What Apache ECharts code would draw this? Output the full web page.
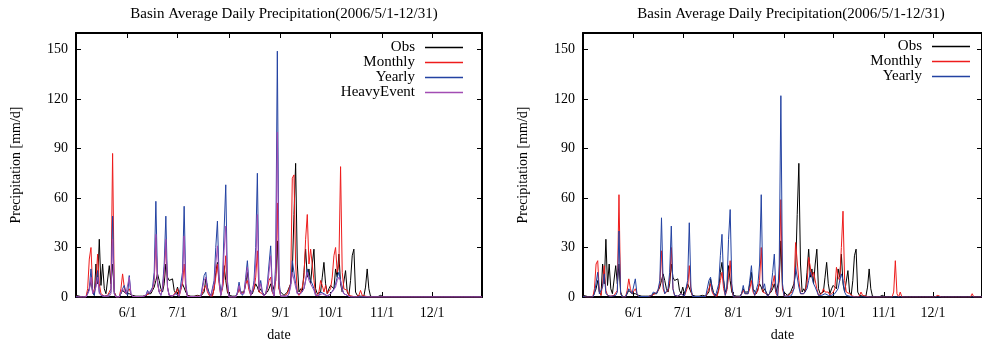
<!DOCTYPE html>
<html>
<head>
<meta charset="utf-8">
<script src="https://cdn.jsdelivr.net/npm/echarts@6/dist/echarts.min.js"></script>
<style>
  html, body { margin: 0; padding: 0; background: #fff; }
  #chart { width: 982px; height: 347px; }
</style>
</head>
<body>
<div id="chart"></div>
<script>
// basin average daily precipitation [mm/d], 2006/5/1 - 12/31, one line per month
const firstMonth = 5;
const monthLengths = [31, 30, 31, 31, 30, 31, 30, 31];
const tickLabels = ['6/1', '7/1', '8/1', '9/1', '10/1', '11/1', '12/1'];
const titleText = 'Basin Average Daily Precipitation(2006/5/1-12/31)';

const obs = [
  1, 1, 0.5, 0, 0, 0, 0, 0, 5, 10, 3, 1, 20, 8, 35, 7, 20, 5, 2, 1, 19, 8, 20, 3, 0.5, 0, 0, 1, 4, 5, 2,
  1, 2, 1, 1, 0.5, 0.5, 0.5, 0.5, 0.5, 0.5, 0.5, 0.5, 2, 3, 2, 4, 6, 10, 14, 10, 5, 3, 8, 20, 12, 10, 11, 11, 4, 2,
  6, 2, 3, 8, 9, 3, 1, 0.5, 0.5, 1, 0.5, 0.5, 1, 0.5, 0.5, 1, 3, 11, 6, 2, 1, 1, 5, 15, 21, 10, 3, 5, 19, 10, 3,
  1, 0.5, 0.5, 0.5, 0.5, 2, 5, 3, 4, 3, 8, 15, 5, 4, 2, 3, 8, 6, 3, 5, 3, 1, 2, 3, 5, 8, 3, 2, 10, 34, 5,
  3, 4, 1, 2, 3, 4, 8, 15, 50, 81, 20, 3, 5, 3, 15, 29, 12, 17, 8, 20, 29, 5, 2, 1, 3, 12, 21, 8, 2, 5,
  7, 6, 5, 17, 12, 26, 8, 3, 4, 16, 3, 1, 10, 25, 29, 3, 1, 0.5, 0.5, 0.5, 0.5, 6, 17, 5, 0.5, 0, 0, 0, 0, 0, 1,
  0, 0, 0, 0, 1, 0, 0, 0, 0, 0, 0, 0, 0, 0, 0, 0, 0, 0, 0, 0, 0, 0, 0, 0, 0, 0, 0, 0, 0, 0,
  0.8, 0, 0, 0, 0, 0, 0, 0, 0, 0, 0, 0, 0, 0, 0, 0, 0, 0, 0, 0, 0, 0, 0, 0, 0, 0, 0, 0, 0, 0, 0
];

// left panel
const monthlyA = [
  0.5, 0.3, 0, 0, 0, 0, 0, 5, 23, 30, 5, 2, 10, 26, 8, 2, 1, 0.5, 0.5, 1, 3, 5, 87, 3, 0, 0, 0, 5, 14, 6, 2,
  1, 5, 2, 0.3, 0.3, 0.3, 0.3, 0.3, 0.3, 0.3, 0.3, 1, 2, 2, 3, 5, 10, 36, 8, 3, 2, 5, 15, 33, 6, 1, 0.5, 0.5, 0, 3,
  5, 0.5, 1, 8, 20, 5, 0.5, 0.3, 0.3, 0.5, 0.3, 0.3, 0.5, 0.3, 0.3, 0.5, 5, 7, 3, 1, 0.5, 0.5, 5, 12, 20, 8, 1, 5, 12, 25, 5,
  0, 0, 0, 0, 0, 2, 5, 2, 1, 3, 8, 10, 4, 1, 2, 5, 12, 28, 3, 4, 2, 0.5, 2, 5, 10, 12, 3, 0.5, 10, 57, 5,
  0.5, 0.5, 0.5, 1, 2, 5, 8, 72, 74, 20, 3, 1, 3, 6, 12, 35, 50, 20, 29, 28, 10, 2, 0.5, 3, 10, 7, 3, 7, 2, 3,
  5, 12, 25, 30, 15, 20, 79, 15, 5, 5, 4, 1, 0.5, 0.5, 0, 0, 0.5, 1, 4, 1, 2, 0.5, 0, 0, 0, 0, 0, 0, 0, 0, 0,
  0, 0, 0, 0, 0, 0, 0, 0, 0, 0, 0, 0, 0, 0, 0, 0, 0, 0, 0, 0, 0, 0, 0, 0, 0, 0, 0, 0, 0, 0,
  0, 0, 0, 0, 0, 0, 0, 0, 0, 0, 0, 0, 0, 0, 0, 0, 0, 0, 0, 0, 0, 0, 0, 0, 0, 0, 0, 0, 0, 0, 0
];
const yearlyA = [
  0.3, 0.3, 0, 0, 0, 0, 0, 2, 5, 17, 3, 1, 8, 16, 3, 1, 0.5, 0.5, 0.5, 0.5, 1, 3, 49, 2, 0, 0, 0, 1, 5, 7, 3,
  1, 13, 2, 0.3, 0.3, 0.3, 0.3, 0.3, 0.3, 0.3, 0.3, 1, 4, 2, 3, 6, 15, 58, 10, 3, 1, 6, 20, 49, 6, 1, 0.5, 0.5, 0.5, 2,
  3, 0.5, 1, 15, 55, 8, 0.3, 0.3, 0.3, 0.3, 0.3, 0.3, 0.3, 0.3, 0.3, 0.3, 13, 15, 5, 4, 0.5, 0.5, 10, 30, 46, 12, 1, 8, 40, 68, 10,
  0, 0, 0, 0, 0, 3, 9, 3, 1, 3, 12, 22, 8, 1, 3, 10, 30, 75, 5, 10, 3, 0.5, 2, 8, 20, 31, 5, 0.5, 20, 149, 10,
  0.5, 0.5, 0.5, 0.5, 0.5, 2, 8, 22, 22, 8, 2, 1, 2, 3, 5, 10, 17, 12, 10, 8, 5, 1, 0.5, 1, 3, 3, 2, 1, 0.5, 1,
  2, 3, 5, 8, 12, 15, 15, 5, 2, 2, 1, 0, 0, 0, 0, 0, 0, 0, 0, 0, 0, 0, 0, 0, 0, 0, 0, 0, 0, 0, 0,
  0, 0, 0, 0, 0, 0, 0, 0, 0, 0, 0, 0, 0, 0, 0, 0, 0, 0, 0, 0, 0, 0, 0, 0, 0, 0, 0, 0, 0, 0,
  0, 0, 0, 0, 0, 0, 0, 0, 0, 0, 0, 0, 0, 0, 0, 0, 0, 0, 0, 0, 0, 0, 0, 0, 0, 0, 0, 0, 0, 0, 0
];
const heavyA = [
  0, 0, 0, 0, 0, 0, 0, 0, 4, 12, 2, 1, 6, 12, 2, 1, 0.5, 0.5, 0.5, 0.5, 0.5, 2, 35, 2, 0, 0, 0, 1, 5, 6, 2,
  1, 12, 2, 0.3, 0.3, 0.3, 0.3, 0.3, 0.3, 0.3, 0.3, 1, 3, 2, 3, 5, 10, 38, 8, 3, 1, 5, 15, 35, 5, 1, 0.5, 0.5, 0.5, 2,
  3, 0.5, 1, 10, 37, 6, 0.3, 0.3, 0.3, 0.3, 0.3, 0.3, 0.3, 0.3, 0.3, 0.3, 10, 12, 4, 3, 0.5, 0.5, 8, 20, 31, 10, 1, 6, 28, 43, 8,
  0, 0, 0, 0, 0, 2, 7, 2, 1, 2, 10, 18, 6, 1, 2, 8, 20, 50, 4, 8, 2, 0.5, 2, 6, 15, 25, 4, 0.5, 15, 100, 8,
  0.5, 0.5, 0.5, 0.5, 0.5, 2, 6, 15, 14, 6, 2, 1, 2, 3, 5, 10, 15, 10, 8, 6, 4, 1, 0.5, 1, 2, 2, 2, 1, 0.5, 1,
  2, 3, 4, 6, 10, 12, 10, 4, 2, 2, 1, 0, 0, 0, 0, 0, 0, 0, 0, 0, 0, 0, 0, 0, 0, 0, 0, 0, 0, 0, 0,
  0, 0, 0, 0, 0, 0, 0, 0, 0, 0, 0, 0, 0, 0, 0, 0, 0, 0, 0, 0, 0, 0, 0, 0, 0, 0, 0, 0, 0, 0,
  0, 0, 0, 0, 0, 0, 0, 0, 0, 0, 0, 0, 0, 0, 0, 0, 0, 0, 0, 0, 0, 0, 0, 0, 0, 0, 0, 0, 0, 0, 0
];

// right panel
const monthlyB = [
  0.5, 0.3, 0, 0, 0, 0, 0, 5, 20, 22, 3, 1, 8, 19, 4, 1, 0.5, 0.5, 0.5, 1, 2, 4, 62, 2, 0, 0, 0, 4, 11, 5, 2,
  1, 5, 2, 0.3, 0.3, 0.3, 0.3, 0.3, 0.3, 0.3, 0.3, 1, 2, 2, 2, 4, 8, 28, 5, 2, 1, 4, 10, 30, 5, 1, 0.5, 0.5, 0, 2,
  3, 0.5, 1, 6, 19, 4, 0.3, 0.3, 0.3, 0.3, 0.3, 0.3, 0.3, 0.3, 0.3, 0.3, 5, 8, 3, 1, 0.5, 0.5, 4, 10, 15, 5, 1, 4, 12, 22, 5,
  0, 0, 0, 0, 0, 2, 4, 2, 1, 2, 5, 10, 3, 1, 2, 4, 10, 30, 3, 3, 2, 0.5, 2, 4, 8, 13, 2, 0.5, 10, 59, 5,
  0.5, 0.5, 0.5, 1, 2, 3, 5, 33, 34, 10, 2, 1, 2, 4, 8, 24, 25, 12, 15, 14, 5, 1, 0.5, 2, 5, 3, 2, 3, 1, 2,
  3, 5, 18, 12, 10, 30, 52, 10, 3, 3, 2, 1, 0.5, 0.5, 0, 0, 0.5, 3, 1, 2, 0.5, 0, 0, 0, 0, 0, 0, 0, 0, 0, 0,
  0, 0, 0, 0, 0, 0, 3, 22, 2, 0, 3, 0, 0, 0, 0, 0, 0, 0, 0, 0, 0, 0, 0, 0, 0, 0, 0, 0, 0, 0,
  0, 0, 0, 1, 0, 0, 0, 0, 0, 0, 0, 0, 0, 0, 0, 0, 0, 0, 0, 0, 0, 0, 0, 0, 2, 0, 0, 0, 0, 0, 0
];
const yearlyB = [
  0.3, 0.3, 0, 0, 0, 0, 0, 2, 3, 15, 2, 1, 6, 14, 2, 1, 0.5, 0.5, 0.5, 0.5, 1, 3, 40, 2, 0, 0, 0, 1, 5, 4, 2,
  1, 11, 2, 0.3, 0.3, 0.3, 0.3, 0.3, 0.3, 0.3, 0.3, 1, 3, 2, 2, 5, 10, 48, 8, 2, 1, 5, 15, 43, 5, 1, 0.5, 0.5, 0.5, 2,
  2, 0.5, 1, 10, 45, 6, 0.3, 0.3, 0.3, 0.3, 0.3, 0.3, 0.3, 0.3, 0.3, 0.3, 10, 12, 4, 3, 0.5, 0.5, 8, 25, 38, 10, 1, 6, 35, 53, 8,
  0, 0, 0, 0, 0, 2, 7, 2, 1, 2, 10, 19, 5, 1, 2, 8, 20, 62, 5, 8, 2, 0.5, 2, 6, 15, 26, 4, 0.5, 20, 122, 8,
  0.5, 0.5, 0.5, 0.5, 0.5, 2, 5, 18, 18, 6, 2, 1, 2, 3, 5, 10, 15, 12, 8, 6, 5, 1, 0.5, 1, 2, 2, 2, 1, 0.5, 1,
  1, 2, 3, 5, 10, 14, 10, 3, 1, 1, 0.5, 0, 0, 0, 0, 0, 0, 0, 0, 0, 0, 0, 0, 0, 0, 0, 0, 0, 0, 0, 0,
  0, 0, 0, 0, 0, 0, 0, 0, 0, 0, 0, 0, 0, 0, 0, 0, 0, 0, 0, 0, 0, 0, 0, 0, 0, 0, 0, 0, 0, 0,
  0, 0, 0, 0, 0, 0, 0, 0, 0, 0, 0, 0, 0, 0, 0, 0, 0, 0, 0, 0, 0, 0, 0, 0, 0, 0, 0, 0, 0, 0, 0
];

const dates = [];
monthLengths.forEach((n, i) => {
  for (let d = 1; d <= n; d++) dates.push((firstMonth + i) + '/' + d);
});

const colors = { Obs: '#000000', Monthly: '#ee1c1c', Yearly: '#2342a2', HeavyEvent: '#a24db3' };
const font = 'Liberation Serif';

const panels = [
  { left: 76, legendRight: 514, legendTop: 35,
    lines: [['Obs', obs], ['Monthly', monthlyA], ['Yearly', yearlyA], ['HeavyEvent', heavyA]] },
  { left: 583, legendRight: 7, legendTop: 34,
    lines: [['Obs', obs], ['Monthly', monthlyB], ['Yearly', yearlyB]] }
];
const plotW = 406, plotTop = 33, plotH = 265;

const isTick = (i, v) => tickLabels.indexOf(v) >= 0;
const frame = { show: true, onZero: false, lineStyle: { color: '#000', width: 2 } };
const inTick = { show: true, inside: true, length: 5, lineStyle: { color: '#000', width: 1 } };

const chart = echarts.init(document.getElementById('chart'));

const option = {
  animation: false,
  backgroundColor: '#fff',
  title: [], legend: [], grid: [], xAxis: [], yAxis: [], series: []
};

panels.forEach((p, gi) => {
  option.title.push({
    text: titleText, left: p.left + plotW / 2, top: 2, textAlign: 'center',
    textStyle: { fontFamily: font, fontSize: 15, fontWeight: 'normal', color: '#000' }
  });
  option.grid.push({ left: p.left, top: plotTop, width: plotW, height: plotH });
  option.xAxis.push({
    type: 'category', gridIndex: gi, data: dates, boundaryGap: false, position: 'bottom',
    axisLine: frame, axisTick: Object.assign({ interval: isTick }, inTick),
    axisLabel: { interval: isTick, margin: 9, color: '#000', fontFamily: font, fontSize: 14 },
    splitLine: { show: false },
    name: 'date', nameLocation: 'middle', nameGap: 31,
    nameTextStyle: { color: '#000', fontFamily: font, fontSize: 14 }
  }, {
    type: 'category', gridIndex: gi, data: dates, boundaryGap: false, position: 'top',
    axisLine: frame, axisTick: Object.assign({ interval: isTick }, inTick),
    axisLabel: { show: false }, splitLine: { show: false }
  });
  option.yAxis.push({
    type: 'value', gridIndex: gi, min: 0, max: 160, interval: 30, position: 'left',
    axisLine: frame, axisTick: inTick,
    axisLabel: { margin: 8, color: '#000', fontFamily: font, fontSize: 14, showMaxLabel: false,
      formatter: v => (v % 30 === 0 ? String(v) : '') },
    splitLine: { show: false },
    name: 'Precipitation [mm/d]', nameLocation: 'middle', nameGap: 53,
    nameTextStyle: { color: '#000', fontFamily: font, fontSize: 14 }
  }, {
    type: 'value', gridIndex: gi, min: 0, max: 160, interval: 30, position: 'right',
    axisLine: frame, axisTick: inTick, axisLabel: { show: false }, splitLine: { show: false }
  });
  p.lines.forEach(([name, data], k) => {
    option.series.push({
      type: 'line', name: name, data: data, xAxisIndex: gi * 2, yAxisIndex: gi * 2,
      symbol: 'none', showSymbol: false, clip: true,
      lineStyle: { width: 1, color: colors[name] }, itemStyle: { color: colors[name] }
    });
    option.legend.push({
      data: [name], right: p.legendRight, top: p.legendTop + k * 15, align: 'right',
      icon: 'rect', itemWidth: 38, itemHeight: 1.5, selectedMode: false,
      textStyle: { color: '#000', fontFamily: font, fontSize: 15, padding: [0, 5, 0, 0] }
    });
  });
});

chart.setOption(option);
</script>
</body>
</html>
